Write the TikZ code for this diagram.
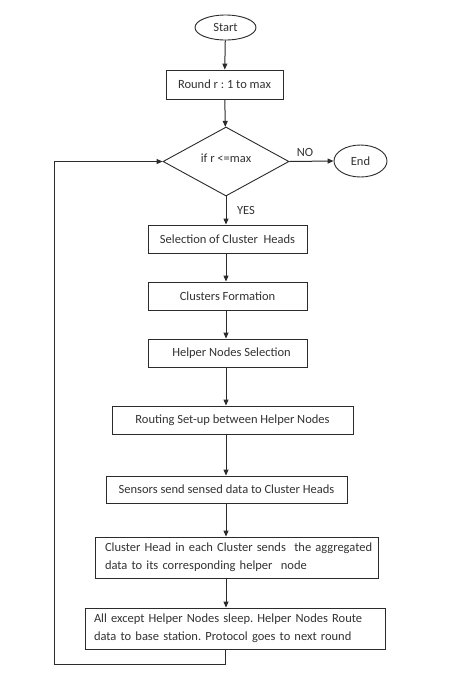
\documentclass[tikz,border=0pt]{standalone}
\usepackage{fontspec}
\setmainfont{Carlito}
\usetikzlibrary{shapes.geometric,arrows.meta}
\definecolor{ink}{HTML}{2B2B2B}
\definecolor{txt}{HTML}{333333}
\tikzset{
  box/.style={draw=ink, line width=0.9pt, rectangle, inner sep=0pt, text=txt, font=\fontsize{12.5}{18}\selectfont\frenchspacing},
  oval/.style={draw=ink, line width=0.9pt, ellipse, inner sep=0pt, text=txt, font=\fontsize{12.5}{14}\selectfont},
  dec/.style={draw=ink, line width=0.9pt, diamond, inner sep=0pt, text=txt, font=\fontsize{12.5}{14}\selectfont},
  arr/.style={draw=ink, line width=1pt, -{Triangle[width=5pt,length=6pt]}},
  lbl/.style={text=txt, font=\fontsize{12.5}{14}\selectfont, inner sep=0pt}
}
\begin{document}
\begin{tikzpicture}[x=1pt,y=-1pt]
\useasboundingbox[fill=white] (0,0) rectangle (449,689);
\node[oval, minimum width=61pt, minimum height=25pt] (start) at (225.5,27.5) {Start};
\node[box, minimum width=117pt, minimum height=29pt] (round) at (224.5,84.5) {Round r : 1 to max};
\node[dec, minimum width=126pt, minimum height=69pt] (dia) at (226,161.5) {\raisebox{7pt}{if r <=max}};
\node[oval, minimum width=53pt, minimum height=32pt] (end) at (360.5,161) {End};
\node[box, minimum width=159pt, minimum height=28pt] (sel) at (227.5,239) {Selection of Cluster\ \ Heads};
\node[box, minimum width=159pt, minimum height=28pt] (clu) at (227.5,296) {Clusters Formation};
\node[box, minimum width=159pt, minimum height=28pt] (help) at (227.5,353) {\hspace{8pt}Helper Nodes Selection};
\node[box, minimum width=241pt, minimum height=28pt] (route) at (232.5,420) {Routing Set-up between Helper Nodes};
\node[box, minimum width=241pt, minimum height=27pt] (sens) at (226.5,489.5) {Sensors send sensed data to Cluster Heads};
\node[box, minimum width=283pt, minimum height=41pt, inner xsep=10pt, text width=263pt, align=left] (ch) at (236.5,557.5) {\mbox{Cluster Head in each Cluster sends\ \ the aggregated}\\\mbox{data to its corresponding helper\ \ node}};
\node[box, minimum width=300pt, minimum height=41pt, inner xsep=9pt, text width=282pt, align=left] (all) at (235,628.5) {\mbox{All except Helper Nodes sleep. Helper Nodes Route}\\\mbox{data to base station. Protocol goes to next round}};
\coordinate (loopb) at (54,664);
\draw[arr] (start) -- (round);
\draw[arr] (round) -- (dia);
\draw[arr] (dia.east) -- (end.west);
\draw[arr] (dia.south) -- (sel.north -| dia.south);
\draw[arr] (sel.south -| dia.south) -- (clu.north -| dia.south);
\draw[arr] (clu.south -| dia.south) -- (help.north -| dia.south);
\draw[arr] (help.south -| dia.south) -- (route.north -| dia.south);
\draw[arr] (route.south -| dia.south) -- (sens.north -| dia.south);
\draw[arr] (sens.south -| dia.south) -- (ch.north -| dia.south);
\draw[arr] (ch.south -| dia.south) -- (all.north -| dia.south);
\draw[arr] (all.south -| start) |- (loopb) |- (dia.west);
\node[lbl] (no) at (305,152) {NO};
\node[lbl] (yes) at (246,210) {YES};
\end{tikzpicture}
\end{document}
